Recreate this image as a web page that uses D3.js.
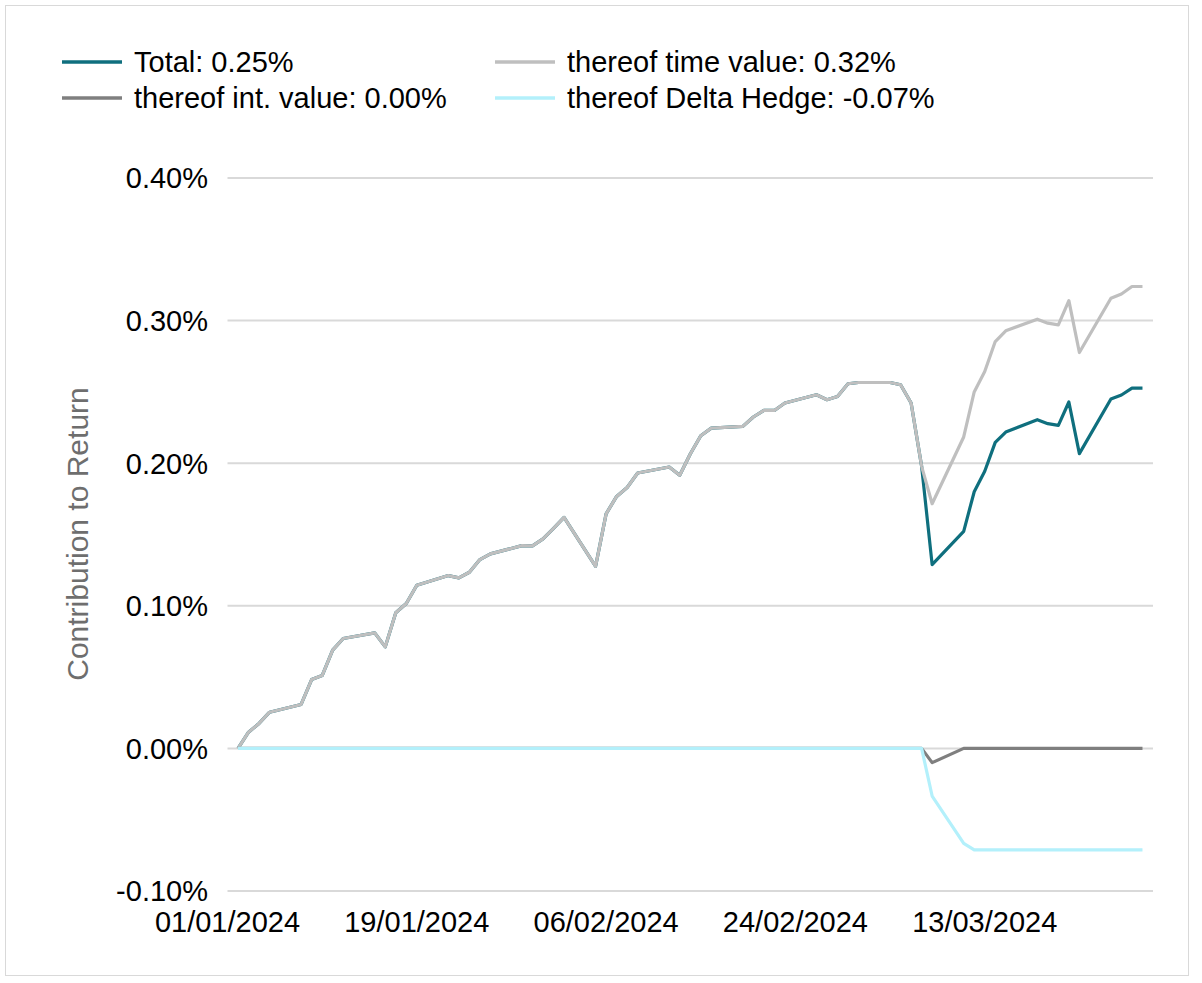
<!DOCTYPE html>
<html>
<head>
<meta charset="utf-8">
<title>Contribution to Return</title>
<script src="https://d3js.org/d3.v7.min.js"></script>
<style>
body { margin: 0; background: #fff; font-family: Arial, "Liberation Sans", sans-serif; }
</style>
</head>
<body>
<script>
// business days Jan 2 - Mar 28 2024
var dates = ["2024-01-02","2024-01-03","2024-01-04","2024-01-05",
  "2024-01-08","2024-01-09","2024-01-10","2024-01-11","2024-01-12",
  "2024-01-15","2024-01-16","2024-01-17","2024-01-18","2024-01-19",
  "2024-01-22","2024-01-23","2024-01-24","2024-01-25","2024-01-26",
  "2024-01-29","2024-01-30","2024-01-31","2024-02-01","2024-02-02",
  "2024-02-05","2024-02-06","2024-02-07","2024-02-08","2024-02-09",
  "2024-02-12","2024-02-13","2024-02-14","2024-02-15","2024-02-16",
  "2024-02-19","2024-02-20","2024-02-21","2024-02-22","2024-02-23",
  "2024-02-26","2024-02-27","2024-02-28","2024-02-29","2024-03-01",
  "2024-03-04","2024-03-05","2024-03-06","2024-03-07","2024-03-08",
  "2024-03-11","2024-03-12","2024-03-13","2024-03-14","2024-03-15",
  "2024-03-18","2024-03-19","2024-03-20","2024-03-21","2024-03-22",
  "2024-03-25","2024-03-26","2024-03-27","2024-03-28"];

// values in %
var timeValue = [0, 0.0114, 0.0175, 0.0254,
  0.0308, 0.0483, 0.0511, 0.0689, 0.0771,
  0.0810, 0.0712, 0.0951, 0.1016, 0.1144,
  0.1212, 0.1196, 0.1235, 0.1324, 0.1364,
  0.1422, 0.1420, 0.1469, 0.1543, 0.1620,
  0.1277, 0.1645, 0.1767, 0.1830, 0.1931,
  0.1973, 0.1915, 0.2064, 0.2193, 0.2246,
  0.2258, 0.2324, 0.2370, 0.2370, 0.2422,
  0.2480, 0.2445, 0.2468, 0.2557, 0.2566,
  0.2566, 0.2550, 0.2422, 0.1978, 0.1716,
  0.2184, 0.2500, 0.2643, 0.2853, 0.2928,
  0.3010, 0.2982, 0.2970, 0.3140, 0.2776,
  0.3157, 0.3187, 0.3239, 0.3239];

var total = [0, 0.0114, 0.0175, 0.0254,
  0.0308, 0.0483, 0.0511, 0.0689, 0.0771,
  0.0810, 0.0712, 0.0951, 0.1016, 0.1144,
  0.1212, 0.1196, 0.1235, 0.1324, 0.1364,
  0.1422, 0.1420, 0.1469, 0.1543, 0.1620,
  0.1277, 0.1645, 0.1767, 0.1830, 0.1931,
  0.1973, 0.1915, 0.2064, 0.2193, 0.2246,
  0.2258, 0.2324, 0.2370, 0.2370, 0.2422,
  0.2480, 0.2445, 0.2468, 0.2557, 0.2566,
  0.2566, 0.2550, 0.2422, 0.1978, 0.1289,
  0.1522, 0.1800, 0.1943, 0.2146, 0.2218,
  0.2305, 0.2277, 0.2265, 0.2429, 0.2067,
  0.2450, 0.2478, 0.2527, 0.2527];

var intValue = [0,0,0,0, 0,0,0,0,0, 0,0,0,0,0, 0,0,0,0,0, 0,0,0,0,0,
  0,0,0,0,0, 0,0,0,0,0, 0,0,0,0,0, 0,0,0,0,0,
  0,0,0,0,-0.0100, 0,0,0,0,0, 0,0,0,0,0, 0,0,0,0];

var deltaHedge = [0,0,0,0, 0,0,0,0,0, 0,0,0,0,0, 0,0,0,0,0, 0,0,0,0,0,
  0,0,0,0,0, 0,0,0,0,0, 0,0,0,0,0, 0,0,0,0,0,
  0,0,0,0,-0.0334, -0.0666,-0.0712,-0.0712,-0.0712,-0.0712,
  -0.0712,-0.0712,-0.0712,-0.0712,-0.0712, -0.0712,-0.0712,-0.0712,-0.0712];

var yTicks = [-0.1, 0, 0.1, 0.2, 0.3, 0.4];
var xTicks = ["2024-01-01","2024-01-19","2024-02-06","2024-02-24","2024-03-13"];

var seriesNames = ["Total: 0.25%", "thereof int. value: 0.00%", "thereof time value: 0.32%", "thereof Delta Hedge: -0.07%"];
var seriesColors = ["#0f6f7e", "#7f7f7f", "#bfbfbf", "#b3f0fb"];

var parse = d3.timeParse("%Y-%m-%d");

var svg = d3.select("body").append("svg")
    .attr("width", 1202)
    .attr("height", 983);

// frame
svg.append("rect")
    .attr("x", 5.5).attr("y", 5.5)
    .attr("width", 1183).attr("height", 970)
    .attr("fill", "none")
    .attr("stroke", "#d9d9d9")
    .attr("stroke-width", 1);

var x = d3.scaleTime()
    .domain([parse("2024-01-01"), parse("2024-03-29")])
    .range([227.5, 1153]);

var y = d3.scaleLinear()
    .domain([-0.1, 0.4])
    .range([891, 178]);

// gridlines
svg.append("g")
  .selectAll("line")
  .data(yTicks)
  .enter().append("line")
    .attr("x1", x.range()[0])
    .attr("x2", x.range()[1])
    .attr("y1", function(d){ return y(d); })
    .attr("y2", function(d){ return y(d); })
    .attr("stroke", "#d9d9d9")
    .attr("stroke-width", 2);

// y labels (plain hyphen for negatives)
var pct = function(d){ return d3.format(".2f")(d).replace("\u2212", "-") + "%"; };
svg.append("g")
  .selectAll("text")
  .data(yTicks)
  .enter().append("text")
    .attr("x", 208)
    .attr("y", function(d){ return y(d); })
    .attr("dy", "0.36em")
    .attr("text-anchor", "end")
    .attr("font-size", 29)
    .attr("fill", "#000")
    .text(pct);

// x labels
var fmt = d3.timeFormat("%d/%m/%Y");
svg.append("g")
  .selectAll("text")
  .data(xTicks)
  .enter().append("text")
    .attr("x", function(d){ return x(parse(d)); })
    .attr("y", 932)
    .attr("text-anchor", "middle")
    .attr("font-size", 29)
    .attr("fill", "#000")
    .text(function(d){ return fmt(parse(d)); });

// axis title
svg.append("text")
    .attr("transform", "translate(88,534) rotate(-90)")
    .attr("text-anchor", "middle")
    .attr("font-size", 30)
    .attr("fill", "#6e6e6e")
    .text("Contribution to Return");

// lines
var line = d3.line()
    .x(function(d, i){ return x(parse(dates[i])); })
    .y(function(d){ return y(d); });

var drawOrder = [[total, 0], [timeValue, 2], [intValue, 1], [deltaHedge, 3]];
drawOrder.forEach(function(s) {
  svg.append("path")
      .attr("d", line(s[0]))
      .attr("fill", "none")
      .attr("stroke", seriesColors[s[1]])
      .attr("stroke-width", 3.2)
      .attr("stroke-linejoin", "round");
});

// legend
var legPos = [[62, 62], [62, 98], [495, 62], [495, 98]];
var leg = svg.append("g");
seriesNames.forEach(function(name, i) {
  leg.append("line")
      .attr("x1", legPos[i][0]).attr("x2", legPos[i][0] + 60)
      .attr("y1", legPos[i][1]).attr("y2", legPos[i][1])
      .attr("stroke", seriesColors[i])
      .attr("stroke-width", 3.5);
  leg.append("text")
      .attr("x", legPos[i][0] + 72)
      .attr("y", legPos[i][1])
      .attr("dy", "0.36em")
      .attr("font-size", 29)
      .attr("fill", "#000")
      .text(name);
});
</script>
</body>
</html>
